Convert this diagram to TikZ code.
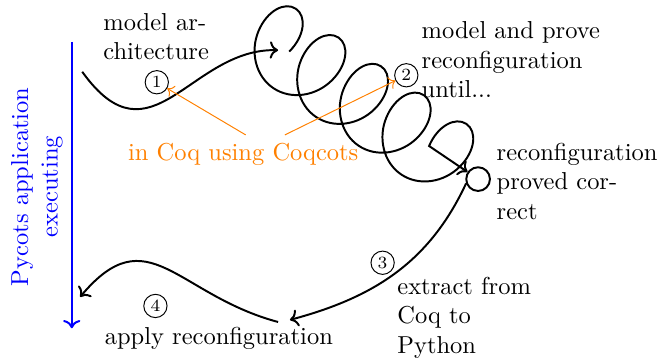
\documentclass[tikz,border=0pt]{standalone}
\usepackage{tikz}
\usetikzlibrary{positioning}
\usetikzlibrary{arrows.meta}
\usetikzlibrary{decorations.pathmorphing}

\tikzset{
  flow/.style={->, thick},
  hint/.style={->, orange},
  stepnum/.style={circle, draw, inner sep=0pt, minimum size=9.5pt, font=\scriptsize},
  txt/.style={align=left},
}

\begin{document}
\begin{tikzpicture}
      \useasboundingbox (0,0) rectangle (9.47,-5.14);

      % Time line of the running application
      \coordinate (runtop) at (1.03,-0.60);
      \coordinate (runend) at (1.03,-4.71);
      \draw[thick, blue, ->] (runtop) -- (runend);
      \node[blue, rotate=90, align=center] (running) at (0.53,-2.68) {Pycots application\\executing};

      % Texts around the cycle
      \node[txt] (arch) at (2.24,-0.53) {model ar-\\chitecture};
      \node[txt] (prove) at (7.33,-0.86) {model and prove\\reconfiguration\\until...};
      \node[txt] (proved) at (8.28,-2.60) {reconfiguration\\proved cor-\\rect};
      \node[txt] (extract) at (6.66,-4.56) {extract from\\Coq to\\Python};
      \node (apply) at (3.14,-4.85) {apply reconfiguration};
      \node[orange] (coq) at (3.49,-2.22) {in Coq using Coqcots};

      % Step numbers
      \node[stepnum] (one) at (2.25,-1.18) {1};
      \node[stepnum] (two) at (5.83,-1.08) {2};
      \node[stepnum] (three) at (5.49,-3.77) {3};
      \node[stepnum] (four) at (2.23,-4.39) {4};

      % End of the proof
      \node[circle, draw, thick, minimum size=0.34cm] (done) at (6.86,-2.57) {};

      \coordinate (start) at (1.18,-1.03);
      \coordinate (spinin) at (3.99,-0.72);
      \coordinate (spin) at (4.15,-0.74);
      \coordinate (back) at (4.16,-4.59);
      \coordinate (leave) at (3.99,-4.62);
      \coordinate (land) at (1.15,-4.26);

      % The cycle
      \draw[flow] (start) .. controls (2.17,-2.41) and (2.73,-0.69) .. (spinin);
      \draw[flow, decorate, decoration={coil, amplitude=16pt, segment length=21pt, aspect=-0.8}] (spin) -- (done);
      \draw[flow] (done.200) to[out=-115, in=15] (back);
      \draw[flow] (leave) to[out=165, in=50, looseness=1.35] (land);

      % Both steps done in Coq
      \draw[hint] ([xshift=1pt]coq.north) -- (one);
      \draw[hint] ([xshift=17pt]coq.north) -- (two);
\end{tikzpicture}
\end{document}
